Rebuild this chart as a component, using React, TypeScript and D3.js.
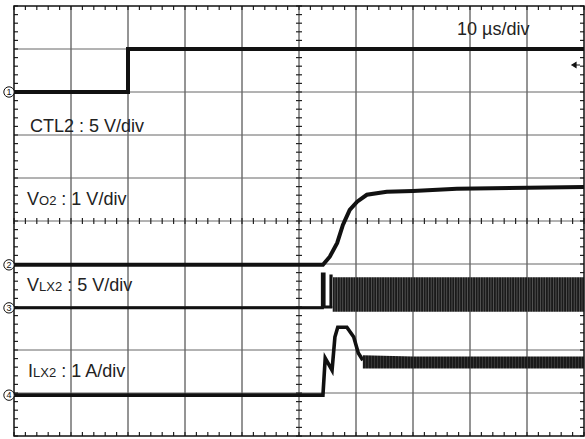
import React from 'react';
import * as d3 from 'd3';

// time axis: 10 us/div, 10 divisions
const timeTicks = [0, 10, 20, 30, 40, 50, 60, 70, 80, 90, 100];
const divTicks = [0, 1, 2, 3, 4, 5, 6, 7, 8, 9, 10];

// CH1 CTL2 (5 V/div), ground marker at 8 div
const ctlT = [0, 20, 20, 100];
const ctlV = [0, 0, 5, 5];

// CH2 VO2 (1 V/div), ground at 4 div
const vo2T = [0, 54.2, 55.4, 56.7, 57.7, 58.9, 60.2, 61.9, 65.4, 70, 77.7, 100];
const vo2V = [0, 0, 0.19, 0.51, 0.93, 1.28, 1.47, 1.63, 1.7, 1.72, 1.77, 1.81];

// CH3 VLX2 (5 V/div), ground at 3 div
const vlxT = [0, 54.1, 54.1, 54.4, 54.4, 55.6, 55.6, 55.9];
const vlxV = [0, 0, 3.95, 3.95, 0.1, 0.1, 3.7, 3.7];
const vlxBandT = [55.9, 100];
const vlxBandTop = [3.55, 3.55];
const vlxBandBot = [-0.45, -0.45];

// CH4 ILX2 (1 A/div), ground at 0.95 div
const ilxT = [0, 54.2, 54.6, 55.8, 56.3, 56.8, 58.4, 59.6, 60.4, 61.2];
const ilxA = [0, 0, 0.86, 0.58, 1.35, 1.58, 1.58, 1.35, 0.98, 0.81];
const ilxBandT = [61.2, 70, 80, 100];
const ilxBandTop = [0.93, 0.9, 0.9, 0.9];
const ilxBandBot = [0.62, 0.62, 0.62, 0.62];

const channels = [
  { id: '1', ref: 8.0, perDiv: 5 },
  { id: '2', ref: 3.98, perDiv: 1 },
  { id: '3', ref: 2.98, perDiv: 5 },
  { id: '4', ref: 0.95, perDiv: 1 },
];

const W = 585;
const H = 439;
const x = d3.scaleLinear().domain([0, 100]).range([14, 584]);
const y = d3.scaleLinear().domain([0, 10]).range([436, 6]);

const chY = (ch: number, v: number) => y(channels[ch].ref + v / channels[ch].perDiv);

const linePath = (ch: number, ts: number[], vs: number[]) =>
  d3.line<number>().x((_, i) => x(ts[i])).y((v) => chY(ch, v))(vs) || '';

const bandPath = (ch: number, ts: number[], top: number[], bot: number[]) =>
  d3
    .area<number>()
    .x((t) => x(t))
    .y0((_, i) => chY(ch, bot[i]))
    .y1((_, i) => chY(ch, top[i]))(ts) || '';

const font = '"Liberation Sans", Arial, Helvetica, sans-serif';

export default function App() {
  const minor = d3.range(0, 10.001, 0.2);
  const xMinor = minor.map((d) => x(d * 10));
  const yMinor = minor.map((d) => y(d));
  const cx = x(50);
  const cy = y(5);

  return (
    <svg
      width={W}
      height={H}
      style={{ position: 'absolute', left: 0, top: 0, background: '#fff' }}
      fontFamily={font}
    >
      <defs>
        <pattern id="sw" width="2.6" height="10" patternUnits="userSpaceOnUse">
          <rect width="2.6" height="10" fill="#1a1a1a" />
          <rect x="1.9" width="0.5" height="10" fill="#fff" opacity="0.45" />
        </pattern>
        <pattern id="nz" width="3" height="10" patternUnits="userSpaceOnUse">
          <rect width="3" height="10" fill="#1a1a1a" />
          <rect x="2.2" width="0.5" height="10" fill="#fff" opacity="0.25" />
        </pattern>
      </defs>

      {/* grid */}
      {timeTicks.slice(1, -1).map((t) => (
        <line key={'v' + t} x1={x(t)} x2={x(t)} y1={y(10)} y2={y(0)} stroke="#2a2a2a" strokeWidth={1} />
      ))}
      {divTicks.slice(1, -1).map((d) => (
        <line key={'h' + d} x1={x(0)} x2={x(100)} y1={y(d)} y2={y(d)} stroke="#666" strokeWidth={1} />
      ))}

      {/* minor ticks on centre lines and borders */}
      {xMinor.map((px, i) => (
        <g key={'xm' + i} stroke="#222" strokeWidth={1.2}>
          <line x1={px} x2={px} y1={cy - 3} y2={cy + 3} />
          <line x1={px} x2={px} y1={y(10)} y2={y(10) + 4} />
          <line x1={px} x2={px} y1={y(0)} y2={y(0) - 4} />
        </g>
      ))}
      {yMinor.map((py, i) => (
        <g key={'ym' + i} stroke="#222" strokeWidth={1.2}>
          <line x1={cx - 3} x2={cx + 3} y1={py} y2={py} />
          <line x1={x(0)} x2={x(0) + 4} y1={py} y2={py} />
          <line x1={x(100)} x2={x(100) - 4} y1={py} y2={py} />
        </g>
      ))}

      {/* border */}
      <rect x={x(0)} y={y(10)} width={x(100) - x(0)} height={y(0) - y(10)} fill="none" stroke="#111" strokeWidth={1.5} />

      {/* traces */}
      <path d={linePath(0, ctlT, ctlV)} fill="none" stroke="#111" strokeWidth={4} />
      <path d={linePath(1, vo2T, vo2V)} fill="none" stroke="#111" strokeWidth={4} />
      <path d={linePath(2, vlxT, vlxV)} fill="none" stroke="#111" strokeWidth={3} />
      <path d={bandPath(2, vlxBandT, vlxBandTop, vlxBandBot)} fill="url(#sw)" />
      <path d={linePath(3, ilxT, ilxA)} fill="none" stroke="#111" strokeWidth={3.6} />
      <path d={bandPath(3, ilxBandT, ilxBandTop, ilxBandBot)} fill="url(#nz)" />

      {/* trigger marker */}
      <path d="M572,65 L576,62.5 L576,67.5 Z M575,65 L580,65" fill="#111" stroke="#111" strokeWidth={1.2} />

      {/* ground markers */}
      {channels.map((c) => (
        <g key={c.id}>
          <circle cx={9} cy={y(c.ref)} r={5.2} fill="#fff" stroke="#111" strokeWidth={1} />
          <text x={9} y={y(c.ref) + 3.3} fontSize={9} textAnchor="middle" fill="#111">
            {c.id}
          </text>
        </g>
      ))}

      {/* labels */}
      <g fill="#222" fontSize={18}>
        <text x={457} y={35}>10 µs/div</text>
        <text x={30} y={132}>CTL2 : 5 V/div</text>
        <text x={27} y={205}>
          V<tspan fontSize={13}>O2</tspan> : 1 V/div
        </text>
        <text x={27} y={291}>
          V<tspan fontSize={13}>LX2</tspan> : 5 V/div
        </text>
        <text x={28} y={377}>
          I<tspan fontSize={13}>LX2</tspan> : 1 A/div
        </text>
      </g>
    </svg>
  );
}
